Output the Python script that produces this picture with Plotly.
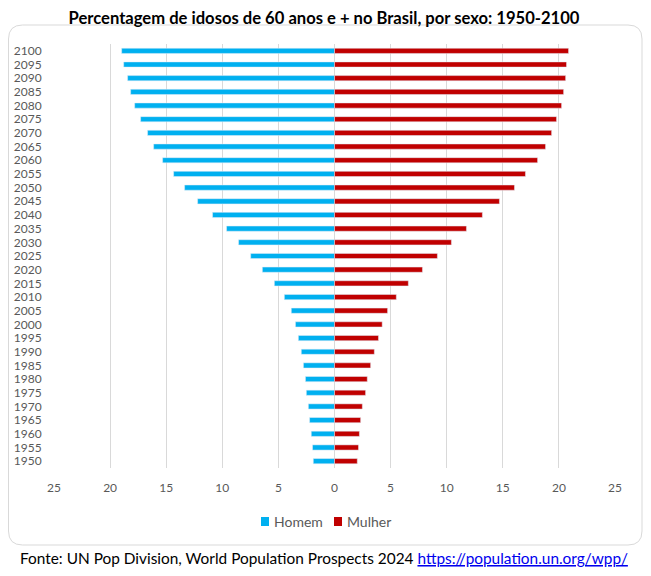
import plotly.graph_objects as go

anos = [str(a) for a in range(1950, 2101, 5)]

# % de idosos (60+) por sexo
homem = [1.89, 1.96, 2.07, 2.22, 2.33, 2.51, 2.59, 2.77, 2.96, 3.22,
         3.48, 3.85, 4.47, 5.36, 6.43, 7.47, 8.55, 9.62, 10.87, 12.20,
         13.36, 14.34, 15.32, 16.12, 16.66, 17.28, 17.81, 18.17, 18.44, 18.79, 18.97]
mulher = [2.03, 2.14, 2.22, 2.33, 2.48, 2.77, 2.92, 3.22, 3.55, 3.92,
          4.25, 4.73, 5.51, 6.58, 7.84, 9.17, 10.42, 11.76, 13.18, 14.70,
          16.04, 17.02, 18.10, 18.81, 19.35, 19.79, 20.24, 20.42, 20.60, 20.68, 20.86]

tick_vals = [-25, -20, -15, -10, -5, 0, 5, 10, 15, 20, 25]
tick_text = [str(abs(v)) for v in tick_vals]

AZUL = "#00B0F0"
VERMELHO = "#C00000"

fig = go.Figure()
fig.add_trace(go.Bar(y=anos, x=[-v for v in homem], orientation="h", name="Homem",
                     marker_color=AZUL, customdata=homem,
                     hovertemplate="%{y}: %{customdata:.2f}%<extra>Homem</extra>"))
fig.add_trace(go.Bar(y=anos, x=mulher, orientation="h", name="Mulher",
                     marker_color=VERMELHO,
                     hovertemplate="%{y}: %{x:.2f}%<extra>Mulher</extra>"))

# the page has an 8px body margin, so the figure is a bit smaller than the window
W, H = 643, 568
l, r, t, b = 46, 36, 36, 108
pw, ph = W - l - r, H - t - b


def px(x):
    return (x - l) / pw


def py(y):
    return (H - b - y) / ph


# rounded frame
x0, x1, y0, y1, rad = 0.5, 634, 17, 537, 14
path = (f"M {px(x0 + rad)},{py(y0)} L {px(x1 - rad)},{py(y0)} "
        f"Q {px(x1)},{py(y0)} {px(x1)},{py(y0 + rad)} L {px(x1)},{py(y1 - rad)} "
        f"Q {px(x1)},{py(y1)} {px(x1 - rad)},{py(y1)} L {px(x0 + rad)},{py(y1)} "
        f"Q {px(x0)},{py(y1)} {px(x0)},{py(y1 - rad)} L {px(x0)},{py(y0 + rad)} "
        f"Q {px(x0)},{py(y0)} {px(x0 + rad)},{py(y0)} Z")

shapes = [dict(type="path", xref="paper", yref="paper", path=path,
               line=dict(color="#D9D9D9", width=1), fillcolor="rgba(0,0,0,0)",
               layer="below")]

# legend drawn by hand (small squares close to the text, like Excel)
legenda = [("Homem", AZUL, 253), ("Mulher", VERMELHO, 326)]
annotations = []
for nome, cor, lx in legenda:
    shapes.append(dict(type="rect", xref="paper", yref="paper",
                       x0=px(lx), x1=px(lx + 8), y0=py(518), y1=py(509),
                       fillcolor=cor, line=dict(width=0)))
    annotations.append(dict(xref="paper", yref="paper", x=px(lx + 11), y=py(513.5),
                            xanchor="left", yanchor="middle", showarrow=False,
                            text=nome, font=dict(family="Lato", size=14, color="#595959")))

annotations.append(dict(
    xref="paper", yref="paper", x=px(316), y=py(550), xanchor="center", yanchor="middle",
    showarrow=False,
    text=("Fonte: UN Pop Division, World Population Prospects 2024 "
          "<a href='https://population.un.org/wpp/' style='color:#0000EE'>"
          "<u>https://population.un.org/wpp/</u></a>"),
    font=dict(family="Lato", size=15.4, color="black")))

fig.update_layout(
    width=W, height=H,
    margin=dict(l=l, r=r, t=t, b=b),
    paper_bgcolor="white", plot_bgcolor="white",
    font=dict(family="Lato", size=12, color="#595959"),
    barmode="relative", bargap=0.62,
    showlegend=False,
    title=dict(text="<b>Percentagem de idosos de 60 anos e + no Brasil, por sexo: 1950-2100</b>",
               x=px(316), xref="paper", xanchor="center",
               y=1 - 10.5 / H, yref="container", yanchor="middle",
               font=dict(family="Lato", size=16.6, color="black")),
    xaxis=dict(range=[-25, 25], tickvals=tick_vals, ticktext=tick_text,
               showgrid=True, gridcolor="#D9D9D9", gridwidth=1,
               zeroline=True, zerolinecolor="#D9D9D9", zerolinewidth=1,
               ticks="outside", ticklen=9, tickcolor="rgba(0,0,0,0)",
               tickfont=dict(size=12, color="#595959"), fixedrange=True, automargin=False),
    yaxis=dict(tickmode="array", tickvals=anos, showgrid=False,
               ticks="outside", ticklen=9, tickcolor="rgba(0,0,0,0)",
               tickfont=dict(size=12, color="#595959"), fixedrange=True, automargin=False),
    shapes=shapes,
    annotations=annotations,
)

fig.write_html("out.html")
